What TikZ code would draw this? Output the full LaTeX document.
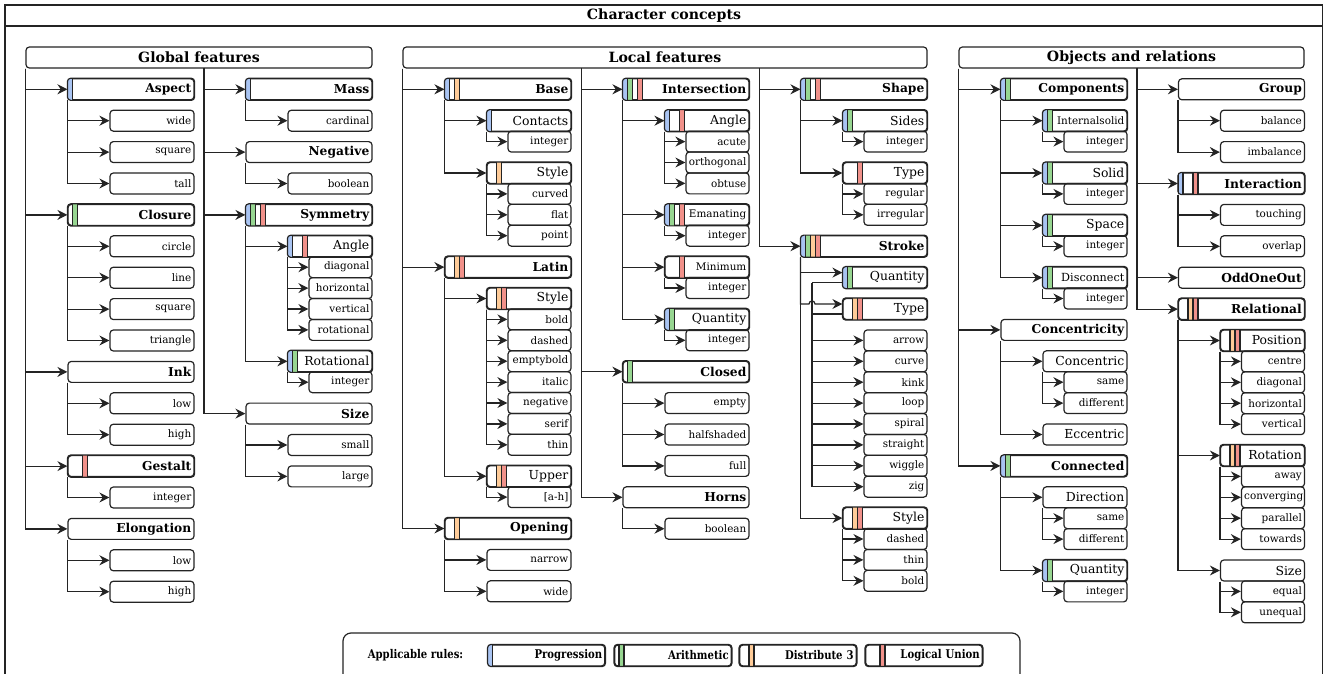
\documentclass[tikz,border=0pt]{standalone}
\usepackage{fontspec}
\setmainfont{DejaVu Serif}
\newfontfamily\legendfont[FakeStretch=0.84]{DejaVu Serif}
\usepackage{tikz}
\usetikzlibrary{arrows.meta, positioning, calc}
\definecolor{ccline}{RGB}{36,36,36}
\definecolor{rule1}{RGB}{169,196,242}
\definecolor{rule2}{RGB}{151,214,145}
\definecolor{rule3}{RGB}{255,204,153}
\definecolor{rule4}{RGB}{241,145,138}

\tikzset{
  boxline/.style={draw=ccline, line width=0.9pt},
  cbox/.style={boxline, rounded corners=2.5pt, minimum height=15.7pt,
    inner xsep=2pt, inner ysep=0pt, align=right},
  sect/.style={cbox, align=center, font=\fontsize{10.6}{12}\selectfont\bfseries},
  feat/.style={cbox, text width=90.5pt, font=\fontsize{9.2}{11}\selectfont\bfseries},
  attr/.style={cbox, text width=59pt, font=\fontsize{9.3}{11}\selectfont},
  small/.style={font=\fontsize{7.8}{9}\selectfont},
  val/.style={cbox, text width=59pt, font=\fontsize{7.8}{9}\selectfont},
  subval/.style={cbox, text width=43.25pt, font=\fontsize{7.8}{9}\selectfont},
  legitem/.style={cbox, text width=83.5pt, font=\legendfont\fontsize{9}{10}\selectfont\bfseries},
  link/.style={draw=ccline, line width=0.9pt, -{Stealth[length=7.5pt, width=7.5pt, inset=2.5pt]}},
}

% coloured rule markers in the four slots at the left of a box
\newcommand{\rulestripes}[2]{%
  \begin{scope}
    \clip[rounded corners=2.5pt] (#1.north west) rectangle (#1.south east);
    \foreach \s in {#2} {
      \fill[fill=rule\s] ($(#1.north west)+({5*\s-5},0)$) rectangle ($(#1.south west)+({5*\s},0)$);
      \draw[boxline] ($(#1.north west)+({5*\s-5},0)$) -- ($(#1.south west)+({5*\s-5},0)$)
                     ($(#1.north west)+({5*\s},0)$) -- ($(#1.south west)+({5*\s},0)$);
    }
  \end{scope}
  \draw[boxline, rounded corners=2.5pt] (#1.north west) rectangle (#1.south east);
}

\begin{document}
\begin{tikzpicture}[x=0.75pt, y=-0.75pt]
\useasboundingbox (0,0) rectangle (1325,674);

% ---- outer frame ----
\draw[boxline] (5,5) rectangle (1322.5,700);
\draw[boxline] (5,26) -- (1322.5,26);
\node[font=\fontsize{10.6}{12}\selectfont\bfseries] (title) at (664,15.5) {Character concepts};

% ---- global features ----
\node[sect, minimum width=259.5pt] (glob) at (199,57.5) {Global features};
\coordinate (gsplit) at (204,68);

\node[feat] (gaspect) at (131,89.3) {Aspect};
\foreach \lbl [count=\i] in {wide,square,tall}
  {\node[val] (gaspect\i) at (152,{89.3+31.4*\i}) {\lbl};
   \draw[link] (gaspect.south west) |- (gaspect\i.west);}
\node[feat] (gclosure) at (131,214.9) {Closure};
\foreach \lbl [count=\i] in {circle,line,square,triangle}
  {\node[val] (gclosure\i) at (152,{214.9+31.4*\i}) {\lbl};
   \draw[link] (gclosure.south west) |- (gclosure\i.west);}
\node[feat] (gink) at (131,371.9) {Ink};
\foreach \lbl [count=\i] in {low,high}
  {\node[val] (gink\i) at (152,{371.9+31.4*\i}) {\lbl};
   \draw[link] (gink.south west) |- (gink\i.west);}
\node[feat] (ggestalt) at (131,466.1) {Gestalt};
\node[val] (ggestalt1) at (152,497.5) {integer};
\draw[link] (ggestalt.south west) |- (ggestalt1.west);
\node[feat] (gelong) at (131,528.9) {Elongation};
\foreach \lbl [count=\i] in {low,high}
  {\node[val] (gelong\i) at (152,{528.9+31.4*\i}) {\lbl};
   \draw[link] (gelong.south west) |- (gelong\i.west);}
\foreach \n in {gaspect,gclosure,gink,ggestalt,gelong}
  \draw[link] (glob.south west) |- (\n.west);

\node[feat] (gmass) at (309,89.3) {Mass};
\node[val] (gmass1) at (330,120.7) {cardinal};
\draw[link] (gmass.south west) |- (gmass1.west);
\node[feat] (gneg) at (309,152.1) {Negative};
\node[val] (gneg1) at (330,183.5) {boolean};
\draw[link] (gneg.south west) |- (gneg1.west);
\node[feat] (gsym) at (309,214.9) {Symmetry};
\node[attr] (gangle) at (330,246.3) {Angle};
\foreach \lbl [count=\i] in {diagonal,horizontal,vertical,rotational}
  {\node[subval] (gangle\i) at (340.5,{246.3+20.9*\i}) {\lbl};
   \draw[link] (gangle.south west) |- (gangle\i.west);}
\node[attr] (grot) at (330,361.3) {Rotational};
\node[subval] (grot1) at (340.5,382.2) {integer};
\draw[link] (grot.south west) |- (grot1.west);
\draw[link] (gsym.south west) |- (gangle.west);
\draw[link] (gsym.south west) |- (grot.west);
\node[feat] (gsize) at (309,413.6) {Size};
\foreach \lbl [count=\i] in {small,large}
  {\node[val] (gsize\i) at (330,{413.6+31.4*\i}) {\lbl};
   \draw[link] (gsize.south west) |- (gsize\i.west);}
\foreach \n in {gmass,gneg,gsym,gsize}
  \draw[link] (gsplit) |- (\n.west);

% ---- local features ----
\node[sect, minimum width=393pt] (loc) at (665,57.5) {Local features};
\coordinate (lsplit1) at (581.5,68);
\coordinate (lsplit2) at (759.5,68);

\node[feat] (lbase) at (508,89.3) {Base};
\node[attr] (lcontacts) at (529,120.7) {Contacts};
\node[subval] (lcontacts1) at (539.5,141.6) {integer};
\draw[link] (lcontacts.south west) |- (lcontacts1.west);
\node[attr] (lbstyle) at (529,173.0) {Style};
\foreach \lbl [count=\i] in {curved,flat,point}
  {\node[subval] (lbstyle\i) at (539.5,{173.0+20.9*\i}) {\lbl};
   \draw[link] (lbstyle.south west) |- (lbstyle\i.west);}
\draw[link] (lbase.south west) |- (lcontacts.west);
\draw[link] (lbase.south west) |- (lbstyle.west);
\node[feat] (llatin) at (508,267.1) {Latin};
\node[attr] (llstyle) at (529,298.5) {Style};
\foreach \lbl [count=\i] in {bold,dashed,emptybold,italic,negative,serif,thin}
  {\node[subval] (llstyle\i) at (539.5,{298.5+20.9*\i}) {\lbl};
   \draw[link] (llstyle.south west) |- (llstyle\i.west);}
\node[attr] (lupper) at (529,476.2) {Upper};
\node[subval] (lupper1) at (539.5,497.1) {[a-h]};
\draw[link] (lupper.south west) |- (lupper1.west);
\draw[link] (llatin.south west) |- (llstyle.west);
\draw[link] (llatin.south west) |- (lupper.west);
\node[feat] (lopen) at (508,528.5) {Opening};
\foreach \lbl [count=\i] in {narrow,wide}
  {\node[val] (lopen\i) at (529,{528.5+31.4*\i}) {\lbl};
   \draw[link] (lopen.south west) |- (lopen\i.west);}
\foreach \n in {lbase,llatin,lopen}
  \draw[link] (loc.south west) |- (\n.west);

\node[feat] (linter) at (686,89.3) {Intersection};
\node[attr] (langle) at (707,120.7) {Angle};
\foreach \lbl [count=\i] in {acute,orthogonal,obtuse}
  {\node[subval] (langle\i) at (717.5,{120.7+20.9*\i}) {\lbl};
   \draw[link] (langle.south west) |- (langle\i.west);}
\node[attr, small] (leman) at (707,214.8) {Emanating};
\node[subval] (leman1) at (717.5,235.7) {integer};
\draw[link] (leman.south west) |- (leman1.west);
\node[attr, small] (lmin) at (707,267.1) {Minimum};
\node[subval] (lmin1) at (717.5,288.0) {integer};
\draw[link] (lmin.south west) |- (lmin1.west);
\node[attr] (lquant) at (707,319.4) {Quantity};
\node[subval] (lquant1) at (717.5,340.3) {integer};
\draw[link] (lquant.south west) |- (lquant1.west);
\foreach \n in {langle,leman,lmin,lquant}
  \draw[link] (linter.south west) |- (\n.west);
\node[feat] (lclosed) at (686,371.7) {Closed};
\foreach \lbl [count=\i] in {empty,halfshaded,full}
  {\node[val] (lclosed\i) at (707,{371.7+31.4*\i}) {\lbl};
   \draw[link] (lclosed.south west) |- (lclosed\i.west);}
\node[feat] (lhorns) at (686,497.3) {Horns};
\node[val] (lhorns1) at (707,528.7) {boolean};
\draw[link] (lhorns.south west) |- (lhorns1.west);
\foreach \n in {linter,lclosed,lhorns}
  \draw[link] (lsplit1) |- (\n.west);

\node[feat] (lshape) at (864,89.3) {Shape};
\node[attr] (lsides) at (885,120.7) {Sides};
\node[subval] (lsides1) at (895.5,141.6) {integer};
\draw[link] (lsides.south west) |- (lsides1.west);
\node[attr] (ltype) at (885,173.0) {Type};
\foreach \lbl [count=\i] in {regular,irregular}
  {\node[subval] (ltype\i) at (895.5,{173.0+20.9*\i}) {\lbl};
   \draw[link] (ltype.south west) |- (ltype\i.west);}
\draw[link] (lshape.south west) |- (lsides.west);
\draw[link] (lshape.south west) |- (ltype.west);
\node[feat] (lstroke) at (864,246.2) {Stroke};
\node[attr] (lsquant) at (885,277.6) {Quantity};
\node[attr] (lstype) at (885,309.0) {Type};
\coordinate (sbus) at (812,282.6);
\coordinate (hop) at (812,304);
\foreach \lbl [count=\i] in {arrow,curve,kink,loop,spiral,straight,wiggle,zig}
  {\node[subval] (lsv\i) at (895.5,{319.5+20.9*\i}) {\lbl};
   \draw[link] (sbus) |- (lsv\i.west);}
\draw[boxline] ($(lsquant.west)+(0,5)$) -- (sbus);
\draw[boxline] ($(lstype.west)+(0,5)$) -- ++(-31,0);
\node[attr] (lsstyle) at (885,518.1) {Style};
\foreach \lbl [count=\i] in {dashed,thin,bold}
  {\node[subval] (lsstyle\i) at (895.5,{518.1+20.9*\i}) {\lbl};
   \draw[link] (lsstyle.south west) |- (lsstyle\i.west);}
\draw[link] (lstroke.south west) |- ($(lsquant.west)+(0,-5)$);
\draw[link] (lstroke.south west) |- ($(hop)+(-3,0)$) .. controls +(0,-4) and +(0,-4) .. ($(hop)+(3,0)$) -- ($(lstype.west)+(0,-5)$);
\draw[link] (lstroke.south west) |- (lsstyle.west);
\foreach \n in {lshape,lstroke}
  \draw[link] (lsplit2) |- (\n.west);

% ---- objects and relations ----
\node[sect, minimum width=258.75pt] (obj) at (1131.5,57.5) {Objects and relations};
\coordinate (osplit) at (1137,68);

\node[feat] (ocomp) at (1064,89.3) {Components};
\node[attr, small] (ointern) at (1085,120.7) {Internalsolid};
\node[subval] (ointern1) at (1095.5,141.6) {integer};
\node[attr] (osolid) at (1085,173.0) {Solid};
\node[subval] (osolid1) at (1095.5,193.9) {integer};
\node[attr] (ospace) at (1085,225.3) {Space};
\node[subval] (ospace1) at (1095.5,246.2) {integer};
\node[attr, font=\fontsize{8.4}{10}\selectfont] (odisc) at (1085,277.6) {Disconnect};
\node[subval] (odisc1) at (1095.5,298.5) {integer};
\foreach \n in {ointern,osolid,ospace,odisc}
  {\draw[link] (\n.south west) |- (\n1.west);
   \draw[link] (ocomp.south west) |- (\n.west);}
\node[feat] (oconc) at (1064,329.9) {Concentricity};
\node[attr] (ocentric) at (1085,361.3) {Concentric};
\foreach \lbl [count=\i] in {same,different}
  {\node[subval] (ocentric\i) at (1095.5,{361.3+20.9*\i}) {\lbl};
   \draw[link] (ocentric.south west) |- (ocentric\i.west);}
\node[attr] (oecc) at (1085,434.5) {Eccentric};
\draw[link] (oconc.south west) |- (ocentric.west);
\draw[link] (oconc.south west) |- (oecc.west);
\node[feat] (oconn) at (1064,465.9) {Connected};
\node[attr] (odir) at (1085,497.3) {Direction};
\foreach \lbl [count=\i] in {same,different}
  {\node[subval] (odir\i) at (1095.5,{497.3+20.9*\i}) {\lbl};
   \draw[link] (odir.south west) |- (odir\i.west);}
\node[attr] (oquant) at (1085,570.5) {Quantity};
\node[subval] (oquant1) at (1095.5,591.4) {integer};
\draw[link] (oquant.south west) |- (oquant1.west);
\draw[link] (oconn.south west) |- (odir.west);
\draw[link] (oconn.south west) |- (oquant.west);
\foreach \n in {ocomp,oconc,oconn}
  \draw[link] (obj.south west) |- (\n.west);

\node[feat] (ogroup) at (1241.5,89.3) {Group};
\foreach \lbl [count=\i] in {balance,imbalance}
  {\node[val] (ogroup\i) at (1262.5,{89.3+31.4*\i}) {\lbl};
   \draw[link] (ogroup.south west) |- (ogroup\i.west);}
\node[feat] (ointer) at (1241.5,183.5) {Interaction};
\foreach \lbl [count=\i] in {touching,overlap}
  {\node[val] (ointer\i) at (1262.5,{183.5+31.4*\i}) {\lbl};
   \draw[link] (ointer.south west) |- (ointer\i.west);}
\node[feat] (oodd) at (1241.5,277.7) {OddOneOut};
\node[feat] (orel) at (1241.5,309.1) {Relational};
\node[attr] (opos) at (1262.5,340.5) {Position};
\foreach \lbl [count=\i] in {centre,diagonal,horizontal,vertical}
  {\node[subval] (opos\i) at (1273,{340.5+20.9*\i}) {\lbl};
   \draw[link] (opos.south west) |- (opos\i.west);}
\node[attr] (orot) at (1262.5,455.5) {Rotation};
\foreach \lbl [count=\i] in {away,converging,parallel,towards}
  {\node[subval] (orot\i) at (1273,{455.5+20.9*\i}) {\lbl};
   \draw[link] (orot.south west) |- (orot\i.west);}
\node[attr] (osize) at (1262.5,570.5) {Size};
\foreach \lbl [count=\i] in {equal,unequal}
  {\node[subval] (osize\i) at (1273,{570.5+20.9*\i}) {\lbl};
   \draw[link] (osize.south west) |- (osize\i.west);}
\foreach \n in {opos,orot,osize}
  \draw[link] (orel.south west) |- (\n.west);
\foreach \n in {ogroup,ointer,oodd,orel}
  \draw[link] (osplit) |- (\n.west);

% ---- rule markers ----
\rulestripes{gaspect}{1}
\rulestripes{gclosure}{2}
\rulestripes{ggestalt}{4}
\rulestripes{gmass}{1}
\rulestripes{gsym}{1,2,4}
\rulestripes{gangle}{1,4}
\rulestripes{grot}{1,2}
\rulestripes{lbase}{1,3}
\rulestripes{lcontacts}{1}
\rulestripes{lbstyle}{3}
\rulestripes{llatin}{3,4}
\rulestripes{llstyle}{3,4}
\rulestripes{lupper}{3,4}
\rulestripes{lopen}{3}
\rulestripes{linter}{1,2,4}
\rulestripes{langle}{1,4}
\rulestripes{leman}{1,2,4}
\rulestripes{lmin}{4}
\rulestripes{lquant}{1,2}
\rulestripes{lclosed}{2}
\rulestripes{lshape}{1,2,4}
\rulestripes{lsides}{1,2}
\rulestripes{ltype}{4}
\rulestripes{lstroke}{1,2,3,4}
\rulestripes{lsquant}{1,2}
\rulestripes{lstype}{3,4}
\rulestripes{lsstyle}{3,4}
\rulestripes{ocomp}{1,2}
\rulestripes{ointern}{1,2}
\rulestripes{osolid}{1,2}
\rulestripes{ospace}{1,2}
\rulestripes{odisc}{1,2}
\rulestripes{oconn}{1,2}
\rulestripes{oquant}{1,2}
\rulestripes{ointer}{1,4}
\rulestripes{orel}{3,4}
\rulestripes{opos}{3,4}
\rulestripes{orot}{3,4}

% ---- legend ----
\draw[boxline, rounded corners=6pt] (343,633) rectangle (1020,700);
\node[font=\legendfont\fontsize{9}{10}\selectfont\bfseries] (legtitle) at (415.5,655.5) {Applicable rules:};
\node[legitem] (leg1) at (546.5,655.5) {Progression};
\node[legitem] (leg2) at (673,655.5) {Arithmetic};
\node[legitem] (leg3) at (798,655.5) {Distribute 3};
\node[legitem] (leg4) at (924,655.5) {Logical Union};
\foreach \k in {1,2,3,4}
  {\rulestripes{leg\k}{\k}}
\end{tikzpicture}
\end{document}
